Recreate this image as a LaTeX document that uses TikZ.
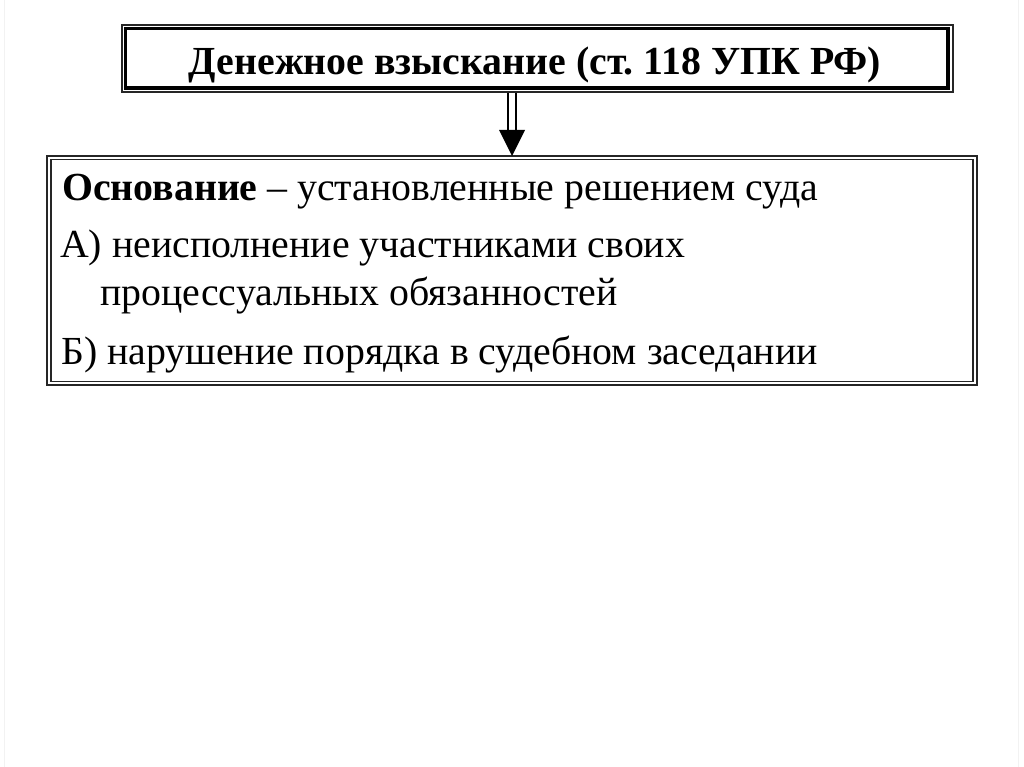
\documentclass[tikz,border=0pt]{standalone}
\usepackage{fontspec}
\setmainfont{Liberation Serif}
\frenchspacing
\begin{document}
\begin{tikzpicture}[x=1pt,y=-1pt,
  thinframe/.style={draw=black!85,line width=1.9pt},
  thickframe/.style={draw=black,line width=3.3pt},
  txt/.style={anchor=base west,inner sep=0pt,font=\fontsize{39.8}{44}\selectfont},
  arrowline/.style={draw=black,line width=2pt}]
\useasboundingbox (0,0) rectangle (1024,767);
\fill[white] (0,0) rectangle (1024,767);
\draw[black!5,line width=1pt] (4,0) -- (4,767) (1018,0) -- (1018,767);
% top box
\coordinate (t1) at (121.7,25);
\coordinate (t2) at (953,92);
\draw[thinframe] (t1) rectangle (t2);
\draw[thickframe] (125.7,28.5) rectangle (948,88);
\node[inner sep=0pt,anchor=base,font=\bfseries\fontsize{39.8}{44}\selectfont] (title) at (535,75) {Денежное взыскание (ст. 118 УПК РФ)};
% bottom box
\draw[thinframe] (47,156) rectangle (977,385);
\draw[thinframe] (51,159.5) rectangle (973,381.5);
\coordinate (bb) at (512,156);
\coordinate (tb) at (512,93);
% arrow
\draw[arrowline] (508,93) -- (508,132);
\draw[arrowline] (516,93) -- (516,132);
\fill[black] (499,130) -- (525,130) -- (bb) -- cycle;
% texts
\node[txt] (l1) at (62,201) {\textbf{Основание} – установленные решением суда};
\node[txt] (l2) at (60,258) {А) неисполнение участниками своих};
\node[txt] (l3) at (100,305) {процессуальных обязанностей};
\node[txt] (l4) at (61,364) {Б) нарушение порядка в судебном заседании};
\end{tikzpicture}
\end{document}
